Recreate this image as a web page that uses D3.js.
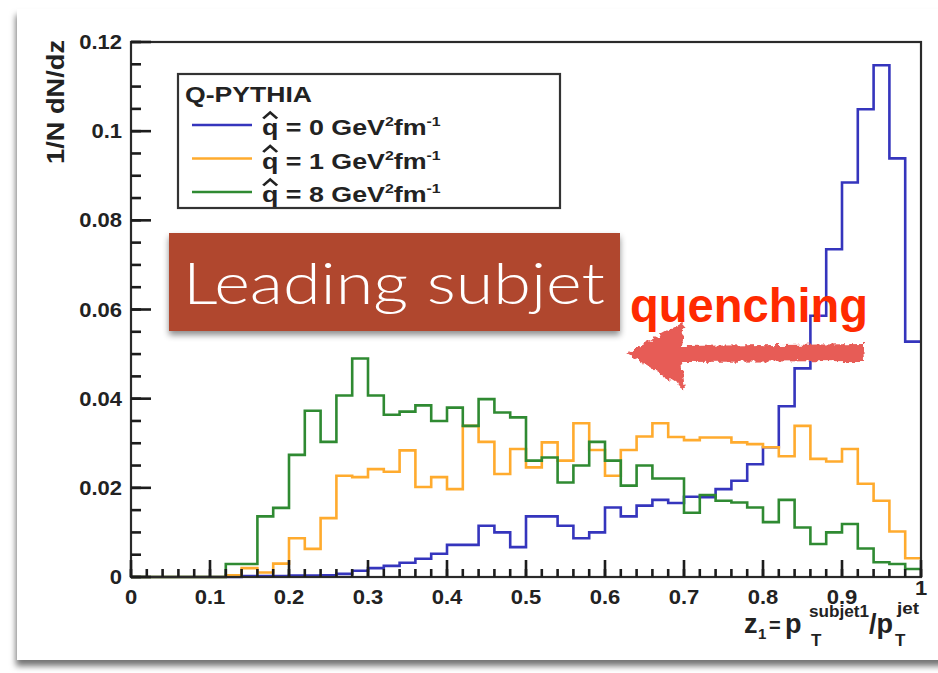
<!DOCTYPE html>
<html>
<head>
<meta charset="utf-8">
<script src="https://cdn.jsdelivr.net/npm/d3@7"></script>
<style>
  html, body { margin: 0; padding: 0; background: #fff; }
  svg { display: block; }
</style>
</head>
<body>
<svg id="chart" width="938" height="673"></svg>
<script>
// ---- histogram data: z1 bin lower edges (bin width 0.02) and 1/N dN/dz ----
const zLow = [0.00,0.02,0.04,0.06,0.08,0.10,0.12,0.14,0.16,0.18,
              0.20,0.22,0.24,0.26,0.28,0.30,0.32,0.34,0.36,0.38,
              0.40,0.42,0.44,0.46,0.48,0.50,0.52,0.54,0.56,0.58,
              0.60,0.62,0.64,0.66,0.68,0.70,0.72,0.74,0.76,0.78,
              0.80,0.82,0.84,0.86,0.88,0.90,0.92,0.94,0.96,0.98];
const zMax = 1.0;

const qhat0 = [0,0,0,0,0,0,0,0.0002,0.0002,0.0002,
               0.0003,0.0003,0.0004,0.0007,0.0014,0.0020,0.0025,0.0032,0.0041,0.0052,
               0.0072,0.0072,0.0115,0.0100,0.0067,0.0136,0.0136,0.0115,0.0087,0.0100,
               0.0156,0.0136,0.0160,0.0173,0.0166,0.0180,0.0179,0.0197,0.0216,0.0253,
               0.0291,0.0383,0.0468,0.0586,0.0735,0.0885,0.1049,0.1148,0.0939,0.0528];
const qhat1 = [0,0,0,0,0,0,0.0004,0.0020,0.0010,0.0030,
               0.0087,0.0063,0.0132,0.0227,0.0224,0.0242,0.0236,0.0284,0.0202,0.0224,
               0.0197,0.0339,0.0303,0.0231,0.0287,0.0246,0.0302,0.0261,0.0345,0.0285,
               0.0227,0.0285,0.0315,0.0345,0.0314,0.0307,0.0313,0.0313,0.0302,0.0298,
               0.0291,0.0271,0.0339,0.0265,0.0259,0.0287,0.0209,0.0171,0.0102,0.0042];
const qhat8 = [0,0,0,0,0,0,0.0029,0.0029,0.0136,0.0155,
               0.0274,0.0373,0.0303,0.0407,0.0490,0.0407,0.0364,0.0371,0.0385,0.0350,
               0.0380,0.0339,0.0399,0.0369,0.0358,0.0261,0.0268,0.0212,0.0250,0.0303,
               0.0261,0.0205,0.0250,0.0221,0.0221,0.0144,0.0184,0.0171,0.0167,0.0156,
               0.0123,0.0173,0.0111,0.0074,0.0100,0.0119,0.0064,0.0033,0.0029,0.0018];

const seriesValues = ["0", "1", "8"];
const seriesColors = ["#3535bd", "#ffab2e", "#2f8a32"];

const xTickValues = [0, 0.1, 0.2, 0.3, 0.4, 0.5, 0.6, 0.7, 0.8, 0.9, 1];
const xTickLabels = ["0", "0.1", "0.2", "0.3", "0.4", "0.5", "0.6", "0.7", "0.8", "0.9", "1"];
const yTickValues = [0, 0.02, 0.04, 0.06, 0.08, 0.1, 0.12];
const yTickLabels = ["0", "0.02", "0.04", "0.06", "0.08", "0.1", "0.12"];

// ---- layout ----
const svg = d3.select("#chart");
const frame = { left: 131, right: 921, top: 42, bottom: 577 };
const font = "'Liberation Sans', Arial, Helvetica, sans-serif";
const ink = "#222";

const x = d3.scaleLinear().domain([0, zMax]).range([frame.left, frame.right]);
const y = d3.scaleLinear().domain([0, 0.12]).range([frame.bottom, frame.top]);

const defs = svg.append("defs");
const cardShadow = defs.append("filter").attr("id", "cardShadow")
  .attr("x", "-5%").attr("y", "-5%").attr("width", "110%").attr("height", "112%");
cardShadow.append("feDropShadow").attr("dx", -1).attr("dy", 6).attr("stdDeviation", 3)
  .attr("flood-color", "#000").attr("flood-opacity", 0.55);

const boxShadow = defs.append("filter").attr("id", "boxShadow")
  .attr("x", "-5%").attr("y", "-10%").attr("width", "110%").attr("height", "130%");
boxShadow.append("feDropShadow").attr("dx", 0).attr("dy", 4).attr("stdDeviation", 3)
  .attr("flood-color", "#000").attr("flood-opacity", 0.45);

const rough = defs.append("filter").attr("id", "rough")
  .attr("x", "-10%").attr("y", "-30%").attr("width", "120%").attr("height", "160%");
rough.append("feTurbulence").attr("type", "fractalNoise").attr("baseFrequency", 0.2)
  .attr("numOctaves", 2).attr("seed", 3).attr("result", "noise");
rough.append("feDisplacementMap").attr("in", "SourceGraphic").attr("in2", "noise")
  .attr("scale", 7).attr("xChannelSelector", "R").attr("yChannelSelector", "G");

// white card behind the plot
svg.append("rect").attr("x", 17).attr("y", 9).attr("width", 960).attr("height", 651)
  .attr("fill", "#fff").attr("filter", "url(#cardShadow)");

// ---- tick labels ----
const labels = svg.append("g").attr("font-family", font).attr("font-weight", "bold")
  .attr("font-size", 20).attr("fill", ink);
labels.selectAll(".yl").data(yTickValues).join("text").attr("class", "yl")
  .attr("text-anchor", "end")
  .attr("transform", d => `translate(${frame.left - 9},${y(d) + 7}) scale(1.1,1)`)
  .text((d, i) => yTickLabels[i]);
labels.selectAll(".xl").data(xTickValues).join("text").attr("class", "xl")
  .attr("text-anchor", "middle")
  .attr("transform", d => `translate(${x(d)},${frame.bottom + (d === 1 ? 18 : 27)}) scale(1.1,1)`)
  .text((d, i) => xTickLabels[i]);

// ---- histograms ----
const step = d3.line().x(d => x(d[0])).y(d => y(d[1])).curve(d3.curveStepAfter);
const allSeries = [qhat0, qhat1, qhat8];
allSeries.forEach((vals, k) => {
  const pts = zLow.map((z, i) => [z, vals[i]]);
  pts.push([zMax, vals[vals.length - 1]]);
  svg.append("path").attr("d", step(pts))
    .attr("fill", "none").attr("stroke", seriesColors[k])
    .attr("stroke-width", 2.6).attr("stroke-linejoin", "miter");
});

// frame
svg.append("rect").attr("x", frame.left).attr("y", frame.top)
  .attr("width", frame.right - frame.left).attr("height", frame.bottom - frame.top)
  .attr("fill", "none").attr("stroke", "#2a2a2a").attr("stroke-width", 2.2);

// ---- tick marks, pointing inward from the frame ----
const yMinor = d3.range(0, 0.12001, 0.005);
const xMinor = d3.range(0, 1.0001, 0.02);
const tickSegs = [];
yMinor.forEach(v => tickSegs.push([frame.left, y(v), frame.left + 10, y(v)]));
yTickValues.forEach(v => tickSegs.push([frame.left, y(v), frame.left + 20, y(v)]));
xMinor.forEach(v => tickSegs.push([x(v), frame.bottom, x(v), frame.bottom - 8]));
xTickValues.forEach(v => tickSegs.push([x(v), frame.bottom, x(v), frame.bottom - 17]));
svg.append("g").selectAll("line").data(tickSegs).join("line")
  .attr("x1", d => d[0]).attr("y1", d => d[1]).attr("x2", d => d[2]).attr("y2", d => d[3])
  .attr("stroke", "#1c1c1c").attr("stroke-width", 2.6);

// ---- axis titles ----
svg.append("text")
  .attr("transform", "translate(64,164) scale(1.15,1) rotate(-90)")
  .attr("font-family", font).attr("font-weight", "bold").attr("font-size", 20)
  .attr("fill", ink).attr("textLength", 124).attr("lengthAdjust", "spacingAndGlyphs")
  .text("1/N  dN/dz");

const xt = svg.append("g").attr("font-family", font).attr("font-weight", "bold").attr("fill", ink);
const xtParts = [
  { t: "z", x: 744, y: 633, s: 27 },
  { t: "1", x: 758, y: 639, s: 15 },
  { t: "=", x: 769, y: 632, s: 20 },
  { t: "p", x: 785, y: 633, s: 27 },
  { t: "T", x: 811, y: 646, s: 17 },
  { t: "subjet1", x: 809, y: 617, s: 16, w: 60 },
  { t: "/p", x: 869, y: 633, s: 27 },
  { t: "T", x: 895, y: 646, s: 17 },
  { t: "jet", x: 897, y: 614, s: 16, w: 22 }
];
xtParts.forEach(p => {
  const t = xt.append("text").attr("x", p.x).attr("y", p.y).attr("font-size", p.s).text(p.t);
  if (p.w) t.attr("textLength", p.w).attr("lengthAdjust", "spacingAndGlyphs");
});

// ---- legend ----
const leg = svg.append("g");
leg.append("rect").attr("x", 178).attr("y", 74).attr("width", 382).attr("height", 134)
  .attr("fill", "#fff").attr("stroke", "#333").attr("stroke-width", 2.2);
leg.append("text").attr("x", 185).attr("y", 102)
  .attr("font-family", font).attr("font-weight", "bold").attr("font-size", 22)
  .attr("fill", ink).attr("textLength", 127).attr("lengthAdjust", "spacingAndGlyphs")
  .text("Q-PYTHIA");

seriesValues.forEach((v, i) => {
  const ly = 125 + i * 33.5;
  const base = ly + 10;
  leg.append("line").attr("x1", 192).attr("x2", 252).attr("y1", ly).attr("y2", ly)
    .attr("stroke", seriesColors[i]).attr("stroke-width", 2.4);
  const g = leg.append("g").attr("transform", `translate(262,${base}) scale(1.22,1)`)
    .attr("fill", ink);
  const t = g.append("text").attr("font-family", font).attr("font-weight", "bold")
    .attr("font-size", 22);
  t.append("tspan").text("q");
  t.append("tspan").text(" = " + v + " GeV");
  t.append("tspan").attr("dy", -9).attr("font-size", 13).text("2");
  t.append("tspan").attr("dy", 9).text("fm");
  t.append("tspan").attr("dy", -9).attr("font-size", 13).text("-1");
  g.append("path").attr("d", "M1,-16.5 L6.7,-22.5 L12.4,-16.5")
    .attr("fill", "none").attr("stroke", ink).attr("stroke-width", 2.4);
});

// ---- annotation: leading subjet box ----
svg.append("rect").attr("x", 169).attr("y", 233).attr("width", 451).attr("height", 98)
  .attr("fill", "#b0462f").attr("filter", "url(#boxShadow)");
svg.append("text").attr("x", 183).attr("y", 304)
  .attr("font-family", "Lato, 'Open Sans', 'Liberation Sans', sans-serif")
  .attr("font-weight", 300).attr("font-size", 58).attr("fill", "#fff")
  .attr("textLength", 422).attr("lengthAdjust", "spacingAndGlyphs")
  .text("Leading subjet");

// ---- annotation: quenching arrow ----
svg.append("text").attr("x", 630).attr("y", 322)
  .attr("font-family", font).attr("font-weight", "bold").attr("font-size", 48)
  .attr("fill", "#ff2a00").attr("textLength", 238).attr("lengthAdjust", "spacingAndGlyphs")
  .text("quenching");
svg.append("path")
  .attr("d", "M627,353 L684,322 L681,346 L863,344 L864,361 L681,362 L685,389 Z")
  .attr("fill", "#e75b57").attr("filter", "url(#rough)");
</script>
</body>
</html>
